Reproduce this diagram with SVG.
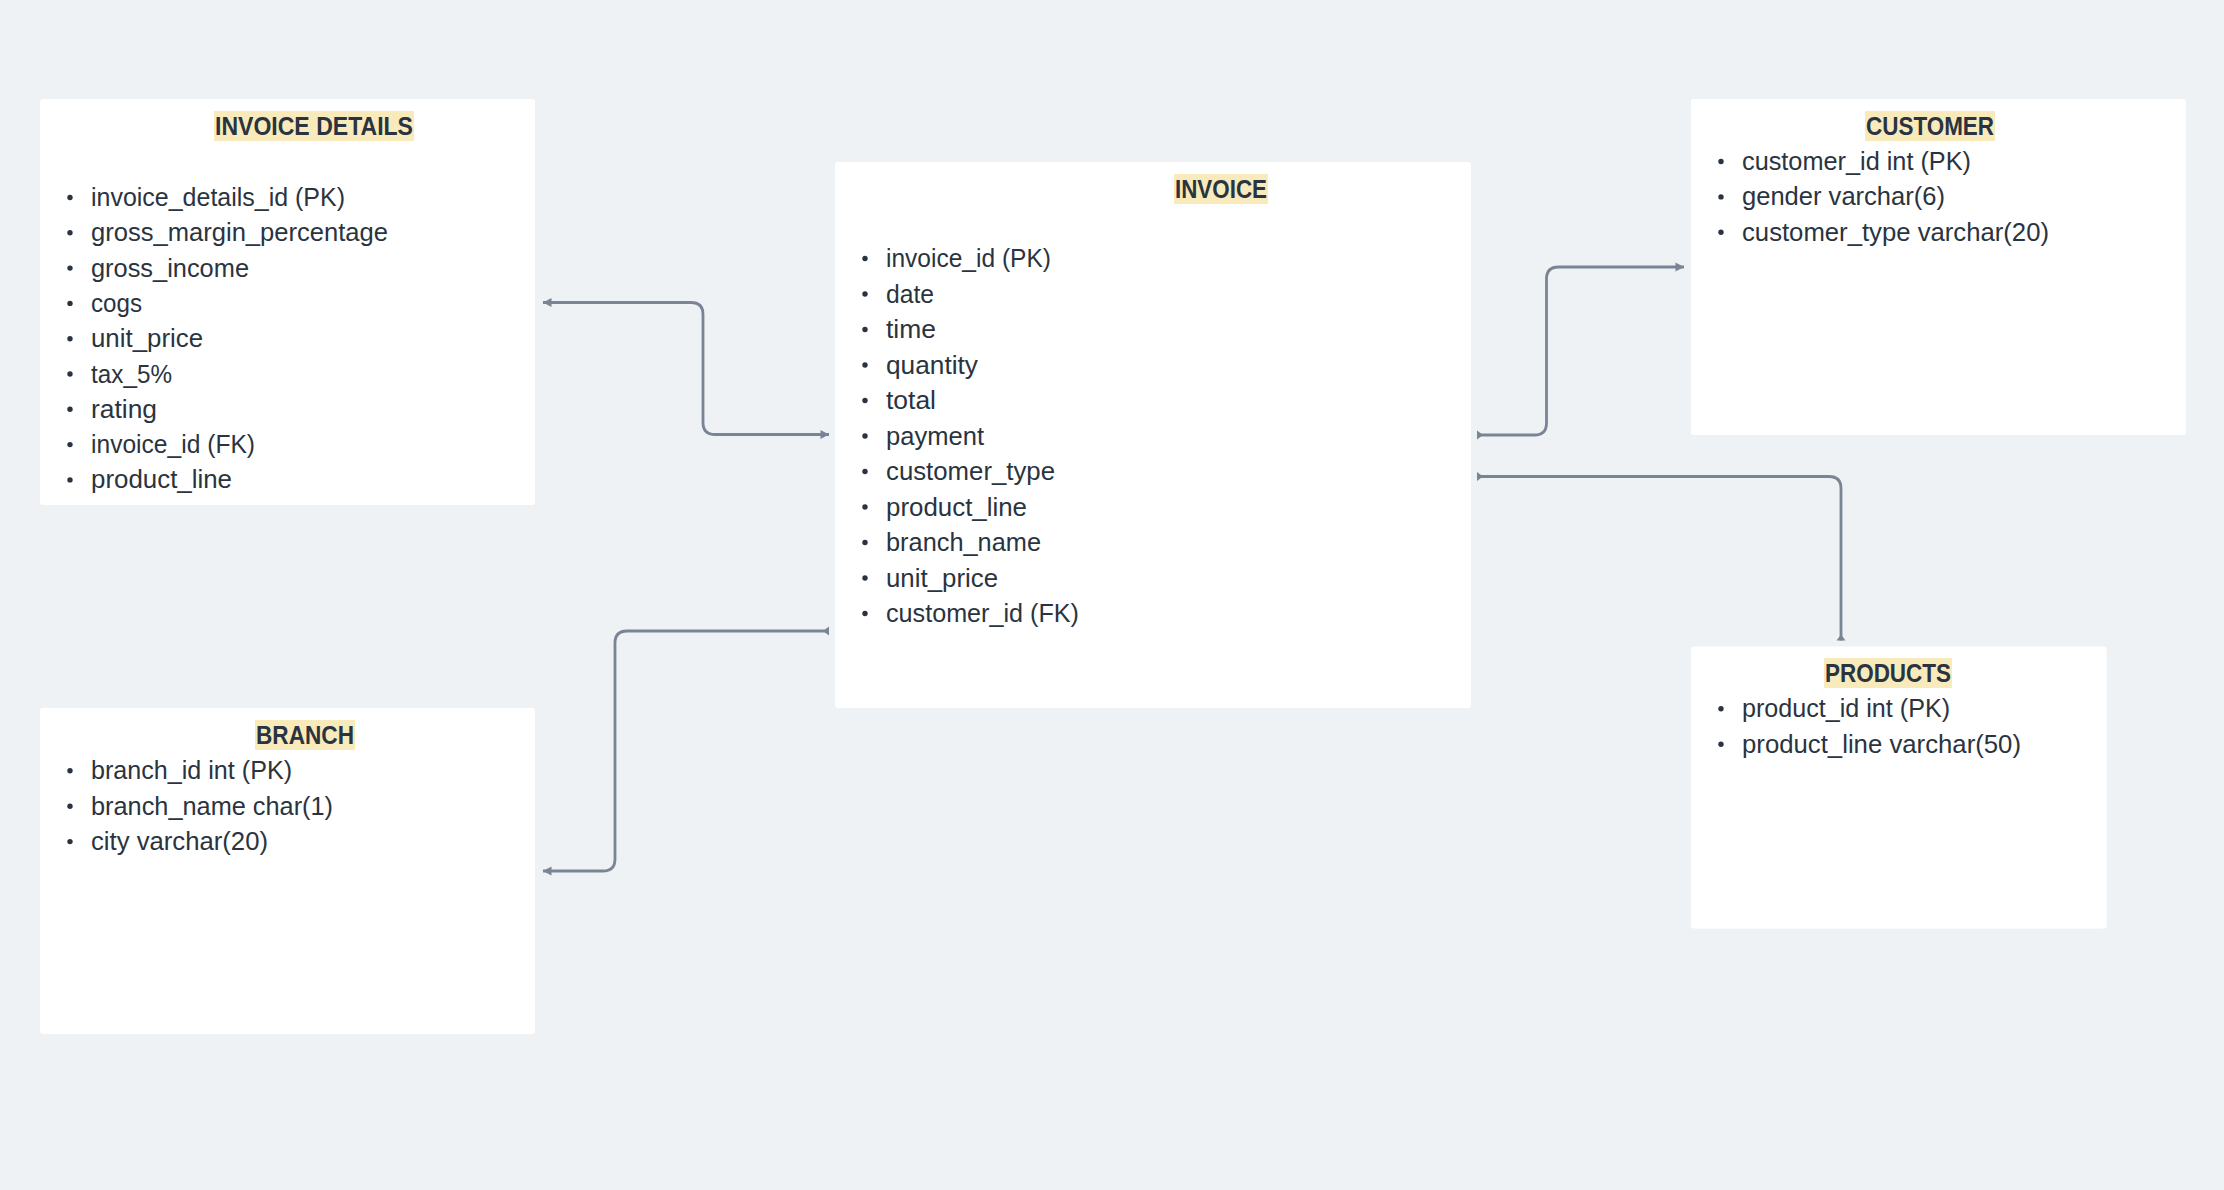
<svg xmlns="http://www.w3.org/2000/svg" width="2224" height="1190" viewBox="0 0 2224 1190">
<style>
.bg{fill:#EEF2F5}
.box{fill:#FFFFFF}
.hl{fill:#F9EABB}
.title{font-family:"Liberation Sans",Arial,sans-serif;font-weight:bold;font-size:25px;fill:#2A3440}
.item{font-family:"Liberation Sans",Arial,sans-serif;font-size:26px;fill:#2A3440}
.dot{fill:#2A3440}
.conn{fill:none;stroke:#7A8494;stroke-width:2.8}
.mk{fill:#7A8494}
</style>
<defs>
<marker id="head" markerUnits="userSpaceOnUse" markerWidth="10" markerHeight="10" viewBox="0 0 9 10" refX="8.5" refY="5" orient="auto-start-reverse"><path class="mk" d="M0,0.5 L8.5,5 L0,9.5 z"/></marker>
<marker id="footS" markerUnits="userSpaceOnUse" markerWidth="8" markerHeight="10" viewBox="0 0 7 10" refX="0" refY="5" orient="auto"><path class="mk" d="M0,0.5 L6,5 L0,9.5 z"/></marker>
<marker id="footE" markerUnits="userSpaceOnUse" markerWidth="8" markerHeight="10" viewBox="-7 0 7 10" refX="0" refY="5" orient="auto"><path class="mk" d="M0,0.5 L-6,5 L0,9.5 z"/></marker>
</defs>
<rect class="bg" x="0" y="0" width="2224" height="1190"/>

<g id="connectors">
<path class="conn" d="M543,302.5 H691 Q703,302.5 703,314.5 V422.5 Q703,434.5 715,434.5 H829" marker-start="url(#head)" marker-end="url(#head)"/>
<path class="conn" d="M829,631 H627 Q615,631 615,643 V859 Q615,871 603,871 H543" marker-start="url(#footS)" marker-end="url(#head)"/>
<path class="conn" d="M1477,435 H1534.5 Q1546.5,435 1546.5,423 V279 Q1546.5,267 1558.5,267 H1684" marker-start="url(#footS)" marker-end="url(#head)"/>
<path class="conn" d="M1477,476.5 H1829 Q1841,476.5 1841,488.5 V640.5" marker-start="url(#footS)" marker-end="url(#footE)"/>
</g>

<g id="invoice-details">
<rect class="box" x="40" y="99" width="495" height="406" rx="3"/>
<rect class="hl" x="214" y="111" width="200" height="30"/>
<text class="title" x="215" y="135" textLength="198" lengthAdjust="spacingAndGlyphs">INVOICE DETAILS</text>
<circle class="dot" cx="70" cy="197.5" r="2.7"/>
<text class="item" x="91" y="206" textLength="254" lengthAdjust="spacingAndGlyphs">invoice_details_id (PK)</text>
<circle class="dot" cx="70" cy="232.8" r="2.7"/>
<text class="item" x="91" y="241.3" textLength="297" lengthAdjust="spacingAndGlyphs">gross_margin_percentage</text>
<circle class="dot" cx="70" cy="268.1" r="2.7"/>
<text class="item" x="91" y="276.6" textLength="158" lengthAdjust="spacingAndGlyphs">gross_income</text>
<circle class="dot" cx="70" cy="303.4" r="2.7"/>
<text class="item" x="91" y="311.9" textLength="51" lengthAdjust="spacingAndGlyphs">cogs</text>
<circle class="dot" cx="70" cy="338.7" r="2.7"/>
<text class="item" x="91" y="347.2" textLength="112" lengthAdjust="spacingAndGlyphs">unit_price</text>
<circle class="dot" cx="70" cy="374" r="2.7"/>
<text class="item" x="91" y="382.5" textLength="81" lengthAdjust="spacingAndGlyphs">tax_5%</text>
<circle class="dot" cx="70" cy="409.3" r="2.7"/>
<text class="item" x="91" y="417.8" textLength="66" lengthAdjust="spacingAndGlyphs">rating</text>
<circle class="dot" cx="70" cy="444.6" r="2.7"/>
<text class="item" x="91" y="453.1" textLength="164" lengthAdjust="spacingAndGlyphs">invoice_id (FK)</text>
<circle class="dot" cx="70" cy="479.9" r="2.7"/>
<text class="item" x="91" y="488.4" textLength="141" lengthAdjust="spacingAndGlyphs">product_line</text>
</g>

<g id="invoice">
<rect class="box" x="835" y="162" width="636" height="546" rx="3"/>
<rect class="hl" x="1174" y="174" width="94" height="30"/>
<text class="title" x="1175" y="198" textLength="92" lengthAdjust="spacingAndGlyphs">INVOICE</text>
<circle class="dot" cx="865" cy="258.5" r="2.7"/>
<text class="item" x="886" y="267" textLength="165" lengthAdjust="spacingAndGlyphs">invoice_id (PK)</text>
<circle class="dot" cx="865" cy="294" r="2.7"/>
<text class="item" x="886" y="302.5" textLength="48" lengthAdjust="spacingAndGlyphs">date</text>
<circle class="dot" cx="865" cy="329.5" r="2.7"/>
<text class="item" x="886" y="338" textLength="50" lengthAdjust="spacingAndGlyphs">time</text>
<circle class="dot" cx="865" cy="365" r="2.7"/>
<text class="item" x="886" y="373.5" textLength="92" lengthAdjust="spacingAndGlyphs">quantity</text>
<circle class="dot" cx="865" cy="400.5" r="2.7"/>
<text class="item" x="886" y="409" textLength="50" lengthAdjust="spacingAndGlyphs">total</text>
<circle class="dot" cx="865" cy="436" r="2.7"/>
<text class="item" x="886" y="444.5" textLength="98" lengthAdjust="spacingAndGlyphs">payment</text>
<circle class="dot" cx="865" cy="471.5" r="2.7"/>
<text class="item" x="886" y="480" textLength="169" lengthAdjust="spacingAndGlyphs">customer_type</text>
<circle class="dot" cx="865" cy="507" r="2.7"/>
<text class="item" x="886" y="515.5" textLength="141" lengthAdjust="spacingAndGlyphs">product_line</text>
<circle class="dot" cx="865" cy="542.5" r="2.7"/>
<text class="item" x="886" y="551" textLength="155" lengthAdjust="spacingAndGlyphs">branch_name</text>
<circle class="dot" cx="865" cy="578" r="2.7"/>
<text class="item" x="886" y="586.5" textLength="112" lengthAdjust="spacingAndGlyphs">unit_price</text>
<circle class="dot" cx="865" cy="613.5" r="2.7"/>
<text class="item" x="886" y="622" textLength="193" lengthAdjust="spacingAndGlyphs">customer_id (FK)</text>
</g>

<g id="customer">
<rect class="box" x="1691" y="99" width="495" height="336" rx="3"/>
<rect class="hl" x="1865" y="111" width="130" height="30"/>
<text class="title" x="1866" y="135" textLength="128" lengthAdjust="spacingAndGlyphs">CUSTOMER</text>
<circle class="dot" cx="1721" cy="161.5" r="2.7"/>
<text class="item" x="1742" y="170" textLength="229" lengthAdjust="spacingAndGlyphs">customer_id int (PK)</text>
<circle class="dot" cx="1721" cy="196.9" r="2.7"/>
<text class="item" x="1742" y="205.4" textLength="203" lengthAdjust="spacingAndGlyphs">gender varchar(6)</text>
<circle class="dot" cx="1721" cy="232.3" r="2.7"/>
<text class="item" x="1742" y="240.8" textLength="307" lengthAdjust="spacingAndGlyphs">customer_type varchar(20)</text>
</g>

<g id="products">
<rect class="box" x="1691" y="646.5" width="415.5" height="282" rx="3"/>
<rect class="hl" x="1824" y="658" width="128" height="30"/>
<text class="title" x="1825" y="682" textLength="126" lengthAdjust="spacingAndGlyphs">PRODUCTS</text>
<circle class="dot" cx="1721" cy="708.8" r="2.7"/>
<text class="item" x="1742" y="717.3" textLength="208" lengthAdjust="spacingAndGlyphs">product_id int (PK)</text>
<circle class="dot" cx="1721" cy="744.2" r="2.7"/>
<text class="item" x="1742" y="752.7" textLength="279" lengthAdjust="spacingAndGlyphs">product_line varchar(50)</text>
</g>

<g id="branch">
<rect class="box" x="40" y="708" width="495" height="326" rx="3"/>
<rect class="hl" x="255" y="720" width="100" height="30"/>
<text class="title" x="256" y="744" textLength="98" lengthAdjust="spacingAndGlyphs">BRANCH</text>
<circle class="dot" cx="70" cy="770.8" r="2.7"/>
<text class="item" x="91" y="779.3" textLength="201" lengthAdjust="spacingAndGlyphs">branch_id int (PK)</text>
<circle class="dot" cx="70" cy="806.2" r="2.7"/>
<text class="item" x="91" y="814.7" textLength="242" lengthAdjust="spacingAndGlyphs">branch_name char(1)</text>
<circle class="dot" cx="70" cy="841.6" r="2.7"/>
<text class="item" x="91" y="850.1" textLength="177" lengthAdjust="spacingAndGlyphs">city varchar(20)</text>
</g>
</svg>
